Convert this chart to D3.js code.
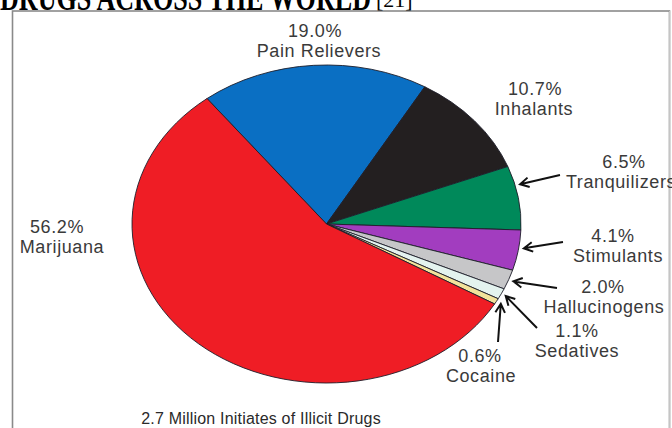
<!DOCTYPE html>
<html>
<head>
<meta charset="utf-8">
<script src="https://cdn.jsdelivr.net/npm/d3@7"></script>
<style>
  html, body { margin: 0; padding: 0; background: #fff; overflow: hidden; }
  svg { display: block; }
</style>
</head>
<body>
<svg id="chart" width="672" height="428"></svg>
<script>
// ---- data ----
const categories = ["Pain Relievers", "Inhalants", "Tranquilizers", "Stimulants", "Hallucinogens", "Sedatives", "Cocaine", "Marijuana"];
const values = [19.0, 10.7, 6.5, 4.1, 2.0, 1.1, 0.6, 56.2];
const colors = ["#0a6fc3", "#231f20", "#00895a", "#a23dbf", "#c6c6c8", "#e4f3ef", "#f2e39c", "#ef1d25"];
const titleText = "DRUGS ACROSS THE WORLD";
const titleRef = "[21]";
const caption = "2.7 Million Initiates of Illicit Drugs";

// ---- layout: [percent centre x, percent baseline y, name centre x] ----
const labelPos = [[315, 37, 319], [535, 95, 534], [624, 168, 621], [613, 242, 618], [603, 293, 604], [577, 337, 577], [480, 362, 481], [57, 233, 62]];
const arrowTail = [null, null, [560, 175], [563, 242], [557, 288], [537, 328], [498, 342], null];
const arrowShift = [0, 0, -4.5, -1, 0, 0, 0, 0];

const svg = d3.select("#chart");
const cx = 326.5, cy = 224, rx = 194.5, ry = 159;

// frame
svg.append("rect").attr("x", 12.5).attr("y", 11).attr("width", 657).attr("height", 440)
  .attr("fill", "#fff").attr("stroke", "#8a8a8a").attr("stroke-width", 1.6);
svg.append("line").attr("x1", 670).attr("x2", 670).attr("y1", 11).attr("y2", 428)
  .attr("stroke", "#d8d8d8").attr("stroke-width", 1.5);

// title (clipped at top of the page)
svg.append("text").attr("x", 0).attr("y", 10)
  .attr("font-family", "Liberation Serif, Times New Roman, serif")
  .attr("font-weight", "bold").attr("font-size", 36).attr("fill", "#000")
  .attr("textLength", 371).attr("lengthAdjust", "spacingAndGlyphs")
  .text(titleText);
svg.append("text").attr("x", 376).attr("y", 7)
  .attr("font-family", "Liberation Serif, Times New Roman, serif")
  .attr("font-size", 22).attr("fill", "#000").text(titleRef);

// pie (elliptical)
const start = -37.9 * Math.PI / 180;
const pie = d3.pie().sort(null).value(d => d).startAngle(start).endAngle(start + 2 * Math.PI);
const arcs = pie(values);
const arc = d3.arc().innerRadius(0).outerRadius(rx);

const g = svg.append("g").attr("transform", `translate(${cx},${cy}) scale(1,${ry / rx})`);
g.selectAll("path").data(arcs).join("path")
  .attr("d", arc)
  .attr("fill", (d, i) => colors[i])
  .attr("stroke", "#1e1e2a")
  .attr("stroke-width", 0.9)
  .attr("vector-effect", "non-scaling-stroke");

const fmt = d3.format(".1f");
const fontFam = "Liberation Sans, Arial, Helvetica, sans-serif";

// labels and arrows
arcs.forEach((a, i) => {
  const [px, py, nx] = labelPos[i];
  const t = svg.append("text").attr("text-anchor", "middle")
    .attr("font-family", fontFam).attr("font-size", 18)
    .attr("letter-spacing", 0.6).attr("fill", "#3a3a3a");
  t.append("tspan").attr("x", px).attr("y", py).text(fmt(values[i]) + "%");
  t.append("tspan").attr("x", nx).attr("y", py + 20).text(categories[i]);

  if (arrowTail[i]) {
    const mid = (a.startAngle + a.endAngle) / 2 + arrowShift[i] * Math.PI / 180;
    const gap = 5;
    const tip = [cx + (rx + gap) * Math.sin(mid), cy - (ry + gap) * Math.cos(mid)];
    const tail = arrowTail[i];
    const ang = Math.atan2(tail[1] - tip[1], tail[0] - tip[0]);
    const hl = 10, ha = 0.5;
    const h1 = [tip[0] + hl * Math.cos(ang + ha), tip[1] + hl * Math.sin(ang + ha)];
    const h2 = [tip[0] + hl * Math.cos(ang - ha), tip[1] + hl * Math.sin(ang - ha)];
    const p = d3.path();
    p.moveTo(tail[0], tail[1]); p.lineTo(tip[0], tip[1]);
    p.moveTo(h1[0], h1[1]); p.lineTo(tip[0], tip[1]); p.lineTo(h2[0], h2[1]);
    svg.append("path").attr("d", p.toString()).attr("fill", "none")
      .attr("stroke", "#111").attr("stroke-width", 2).attr("stroke-linejoin", "miter");
  }
});

// caption
svg.append("text").attr("x", 261).attr("y", 424).attr("text-anchor", "middle")
  .attr("font-family", fontFam).attr("font-size", 16).attr("letter-spacing", 0.2)
  .attr("fill", "#2a2a2a").text(caption);
</script>
</body>
</html>
